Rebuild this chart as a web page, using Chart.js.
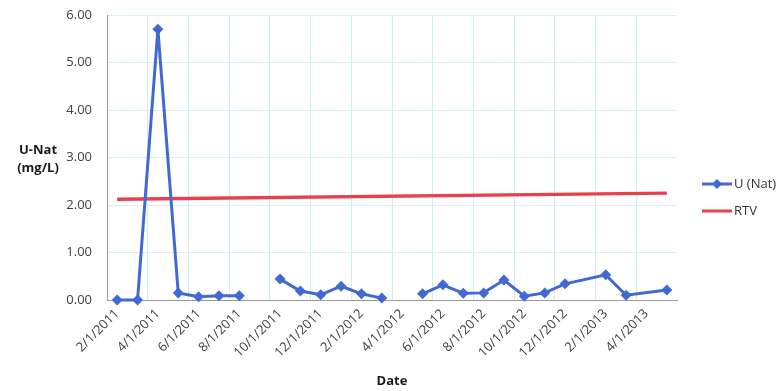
<!DOCTYPE html>
<html lang="en">
<head>
    <meta charset="UTF-8">
    <title>U-Nat</title>
    <script src="https://cdn.jsdelivr.net/npm/chart.js@4.4.0/dist/chart.umd.min.js"></script>
    <style>
        body { margin: 0; background: #fff; }
        #wrap { width: 782px; height: 391px; position: relative; }
    </style>
</head>
<body>
    <div id="wrap"><canvas id="chartUNat"></canvas></div>

<script>
    // one category per month on the x axis
    var months = ['2/1/2011', '3/1/2011', '4/1/2011', '5/1/2011', '6/1/2011', '7/1/2011', '8/1/2011',
        '9/1/2011', '10/1/2011', '11/1/2011', '12/1/2011', '1/1/2012', '2/1/2012', '3/1/2012',
        '4/1/2012', '5/1/2012', '6/1/2012', '7/1/2012', '8/1/2012', '9/1/2012', '10/1/2012',
        '11/1/2012', '12/1/2012', '1/1/2013', '2/1/2013', '3/1/2013', '4/1/2013', '5/1/2013'];

    // sample dates and U (Nat) results (null = no result, line breaks)
    var sampleDates = ['2/1/2011', '3/1/2011', '4/1/2011', '5/1/2011', '6/1/2011', '7/1/2011', '8/1/2011',
        '9/1/2011', '10/1/2011', '11/1/2011', '12/1/2011', '1/1/2012', '2/1/2012', '3/1/2012',
        '4/1/2012', '5/1/2012', '6/1/2012', '7/1/2012', '8/1/2012', '9/1/2012', '10/1/2012',
        '11/1/2012', '12/1/2012', '2/1/2013', '3/1/2013', '5/1/2013'];
    var uNat = [0.00, 0.00, 5.70, 0.15, 0.07, 0.09, 0.09,
        null, 0.44, 0.19, 0.11, 0.29, 0.13, 0.04,
        null, 0.13, 0.32, 0.14, 0.15, 0.42, 0.08,
        0.15, 0.34, 0.53, 0.10, 0.21];

    // RTV reference line
    var rtvDates = ['2/1/2011', '5/1/2013'];
    var rtv = [2.12, 2.25];

    var yMin = 0, yMax = 6, yStep = 1;

    var blue = '#4268d4';
    var red = '#e8404c';
    var fonte = '"Open Sans", "DejaVu Sans", sans-serif';

    // y title and legend drawn by hand (horizontal, like the original)
    var extras = {
        id: 'extras',
        afterDraw(chart) {
            var ctx = chart.ctx;
            ctx.save();
            ctx.fillStyle = '#1a1a1a';
            ctx.font = 'bold 13px ' + fonte;
            ctx.textAlign = 'center';
            ctx.textBaseline = 'middle';
            ctx.fillText('U-Nat', 38, 150);
            ctx.fillText('(mg/L)', 38, 168);

            // legend
            ctx.font = '13px ' + fonte;
            ctx.textAlign = 'left';
            ctx.lineWidth = 3;
            ctx.strokeStyle = blue;
            ctx.beginPath(); ctx.moveTo(702, 184); ctx.lineTo(732, 184); ctx.stroke();
            ctx.fillStyle = blue;
            ctx.beginPath();
            ctx.moveTo(717, 179); ctx.lineTo(722, 184); ctx.lineTo(717, 189); ctx.lineTo(712, 184);
            ctx.closePath(); ctx.fill();
            ctx.fillStyle = '#333';
            ctx.fillText(chart.data.datasets[0].label, 734, 184);

            ctx.strokeStyle = red;
            ctx.beginPath(); ctx.moveTo(702, 211); ctx.lineTo(732, 211); ctx.stroke();
            ctx.fillText(chart.data.datasets[1].label, 734, 211);
            ctx.restore();
        }
    };

    var chartUNat = new Chart(document.getElementById('chartUNat'), {
        type: 'line',
        data: {
            labels: months,
            datasets: [
                {
                    label: 'U (Nat)',
                    data: sampleDates.map((d, i) => ({ x: d, y: uNat[i] })),
                    borderColor: blue,
                    backgroundColor: blue,
                    borderWidth: 3,
                    pointStyle: 'rectRot',
                    pointRadius: 5.5,
                    pointBorderWidth: 0,
                    spanGaps: false,
                    clip: false,
                    tension: 0
                },
                {
                    label: 'RTV',
                    data: rtvDates.map((d, i) => ({ x: d, y: rtv[i] })),
                    borderColor: red,
                    backgroundColor: red,
                    borderWidth: 3.5,
                    pointRadius: 0,
                    tension: 0
                }
            ]
        },
        options: {
            responsive: true,
            maintainAspectRatio: false,
            animation: false,
            layout: { autoPadding: false, padding: { top: 15, right: 105, left: 0, bottom: 0 } },
            plugins: {
                legend: { display: false },
                tooltip: { enabled: false }
            },
            scales: {
                x: {
                    type: 'category',
                    offset: true,
                    afterFit: s => { s.height = 91; s.paddingTop = 0; },
                    grid: {
                        offset: true,
                        drawTicks: false,
                        color: c => (c.index % 2 === 0 ? '#cfeef4' : 'rgba(0,0,0,0)')
                    },
                    border: { color: '#9a9a9a', width: 1 },
                    ticks: {
                        autoSkip: false,
                        minRotation: 45,
                        maxRotation: 45,
                        padding: 6,
                        color: '#404040',
                        font: { family: fonte, size: 13 },
                        callback: function (v, i) { return i % 2 === 0 ? this.getLabelForValue(v) : ''; }
                    },
                    title: {
                        display: true,
                        text: 'Date',
                        color: '#1a1a1a',
                        font: { family: fonte, size: 13, weight: 'bold' },
                        padding: { top: 0, bottom: 2 }
                    }
                },
                y: {
                    min: yMin,
                    max: yMax,
                    afterFit: s => { s.width = 107; s.paddingTop = 0; },
                    grid: { color: '#d8f0f5', drawTicks: false },
                    border: { color: '#9a9a9a', width: 1 },
                    ticks: {
                        stepSize: yStep,
                        padding: 15,
                        color: '#404040',
                        font: { family: fonte, size: 13 },
                        callback: v => v.toFixed(2)
                    }
                }
            }
        },
        plugins: [extras]
    });
</script>
</body>
</html>
